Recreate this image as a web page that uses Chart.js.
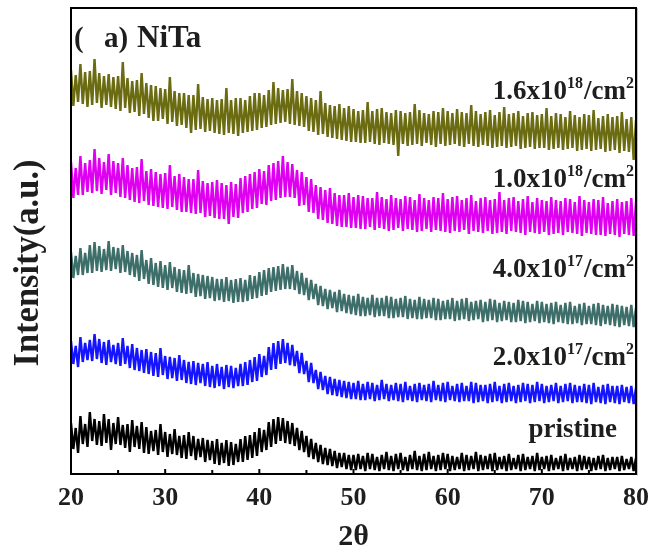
<!DOCTYPE html>
<html><head><meta charset="utf-8">
<script src="https://cdn.jsdelivr.net/npm/chart.js@4/dist/chart.umd.min.js"></script>
<style>html,body{margin:0;padding:0;background:#fff;}#wrap{width:658px;height:555px;}</style>
</head><body><div id="wrap"><canvas id="c" width="658" height="555"></canvas></div>
<script>
// ---- data (2θ grid in degrees, intensities in arbitrary units with stacking offset) ----
const twoTheta = Array.from({length: 241}, (_, i) => 20 + i * 0.25);
const xTickValues = [20, 30, 40, 50, 60, 70, 80];
const seriesNames = ['pristine', '2.0x10^17/cm^2', '4.0x10^17/cm^2', '1.0x10^18/cm^2', '1.6x10^18/cm^2'];
const doseMantissa = ['1.6x10', '1.0x10', '4.0x10', '2.0x10'];
const doseExponent = ['18', '18', '17', '17'];
const doseUnit = '/cm';
const doseUnitExp = '2';
const pristineLabel = 'pristine';
const panelParts = ['(', 'a)', 'NiTa'];
const xTitle = '2θ';
const yTitle = 'Intensity(a.u.)';

const pristine = [
51,25,46,21, 58,30,50,27, 62,33,55,29, 53,28,60,31, 55,24,51,30, 57,29,49,26, 50,22,54,27, 48,25,52,21, 47,20,43,23, 44,19,50,22,
42,17,40,20, 45,19,38,16, 39,15,42,18, 38,14,35,17, 36,12,34,14, 33,10,35,9, 31,11,34,8, 32,9,30,12, 35,12,38,14, 39,16,42,18,
46,22,44,24, 52,27,55,30, 57,33,56,31, 53,30,51,28, 46,24,43,22, 38,17,35,15, 31,12,29,10, 26,9,25,8, 23,6,21,7, 21,5,19,4,
19,4,20,5, 18,3,21,5, 20,4,17,3, 19,5,22,4, 18,3,20,5, 21,4,17,3, 19,5,23,4, 18,3,20,4, 22,5,18,3, 19,4,21,5,
20,3,18,4, 17,5,21,3, 19,4,18,5, 22,3,19,4, 18,5,20,3, 21,4,17,5, 18,3,20,4, 16,5,19,3, 20,4,17,5, 18,3,21,4,
17,5,18,3, 19,4,16,5, 18,3,20,4, 16,5,17,3, 19,4,18,5, 17,3,16,4, 18,5,19,3, 16,4,17,5, 17,3,18,4, 15,5,17,3,
16];

const dose2e17 = [
133,110,128,107, 137,112,131,114, 134,113,140,115, 135,111,132,109, 134,112,129,110, 131,108,136,110, 128,106,130,104, 126,103,124,101, 125,100,122,98, 121,97,126,99,
118,95,117,96, 116,93,119,94, 114,91,112,90, 113,89,111,91, 110,88,112,87, 108,86,110,88, 107,85,109,87, 108,86,106,88, 110,88,112,89, 114,92,117,93,
120,97,118,99, 127,104,131,105, 133,110,135,111, 131,109,129,108, 123,101,121,100, 113,92,111,91, 104,85,102,84, 98,80,97,79, 95,78,94,77, 93,76,92,75,
91,75,93,74, 90,74,92,75, 91,73,89,74, 94,75,90,73, 89,74,91,73, 90,72,92,74, 88,73,90,72, 91,74,89,73, 90,72,93,74, 89,73,91,72,
92,74,88,73, 90,72,91,73, 88,73,92,71, 91,72,89,73, 89,71,90,72, 92,73,88,71, 90,72,91,73, 88,71,89,72, 91,73,90,71, 89,72,92,73,
90,71,88,72, 89,73,91,71, 88,72,90,73, 91,71,89,72, 88,72,90,71, 89,70,91,72, 87,71,89,70, 90,72,88,71, 88,70,89,72, 87,71,88,70,
86];

const dose4e17 = [
222,196,218,199, 226,199,221,201, 229,201,232,203, 228,202,225,204, 233,203,227,205, 226,201,229,202, 223,199,221,197, 219,193,224,195, 214,190,216,189, 211,187,213,186,
209,184,212,186, 207,182,205,181, 204,180,209,181, 201,177,200,178, 199,175,198,176, 197,173,195,174, 195,172,197,173, 194,171,195,172, 196,172,194,173, 199,175,198,176,
202,178,204,179, 206,182,207,183, 208,184,210,185, 207,185,209,184, 203,180,201,179, 196,174,194,175, 190,169,188,168, 185,165,184,166, 182,162,184,163, 180,161,179,160,
178,159,180,158, 177,158,176,159, 179,157,176,158, 176,158,178,156, 177,156,175,157, 176,157,178,155, 175,156,174,155, 177,155,175,156, 174,156,176,154, 175,154,173,155,
174,155,176,153, 173,154,175,155, 176,153,172,154, 173,155,174,152, 172,153,175,154, 174,152,171,153, 173,154,172,152, 171,152,174,153, 173,151,172,152, 170,153,173,151,
172,152,170,151, 171,150,172,152, 169,151,171,150, 172,150,168,151, 170,149,171,150, 168,150,170,149, 171,148,169,150, 168,149,170,148, 169,147,168,149, 167,148,169,147,
166];

const dose1e18 = [
312,276,306,279, 318,279,311,282, 314,281,325,283, 316,280,312,284, 320,279,313,281, 311,277,316,276, 309,274,306,272, 307,271,315,273, 303,269,305,268, 302,267,300,266,
301,265,309,267, 298,264,300,262, 297,262,295,261, 295,260,304,261, 293,257,291,258, 292,256,294,255, 291,255,289,250, 292,257,290,256, 296,261,298,262, 300,265,302,266,
305,270,303,269, 309,273,311,274, 313,276,318,277, 312,277,310,276, 304,268,302,269, 297,262,295,261, 289,255,287,254, 284,251,286,250, 281,248,279,247, 279,247,281,246,
277,246,279,245, 278,245,276,247, 276,244,282,246, 277,245,275,243, 279,244,276,246, 275,243,278,245, 277,244,274,242, 280,243,276,245, 274,242,277,244, 276,243,281,242,
275,241,277,243, 278,242,274,244, 276,240,279,243, 273,242,276,241, 277,243,274,240, 275,241,282,242, 274,240,276,243, 277,242,273,241, 275,239,278,242, 272,241,276,240,
274,242,273,239, 277,240,274,241, 273,239,276,242, 275,241,272,240, 278,238,274,241, 272,240,275,239, 274,239,277,238, 271,240,273,239, 275,237,272,240, 273,239,276,238,
272];

const dose16e17 = [
404,368,399,372, 410,370,402,367, 403,369,415,371, 401,366,398,369, 400,367,397,365, 398,363,412,366, 396,361,393,362, 394,358,401,360, 391,356,389,353, 388,353,386,355,
385,350,397,352, 383,348,381,349, 381,346,379,341, 379,344,390,345, 377,342,375,343, 376,341,374,340, 375,339,386,341, 374,340,376,338, 376,341,374,342, 378,343,381,344,
381,346,379,347, 384,349,392,350, 386,351,384,352, 385,350,395,349, 383,348,381,347, 378,343,376,342, 374,339,383,340, 371,337,369,336, 368,335,370,334, 366,333,368,332,
365,332,363,331, 364,331,372,332, 363,330,365,329, 366,331,362,330, 361,329,364,318, 363,330,361,328, 362,329,370,330, 364,328,361,331, 360,329,363,327, 362,330,366,328,
363,329,361,330, 365,328,362,327, 361,330,369,328, 363,327,360,329, 362,328,364,326, 359,327,362,328, 367,326,360,327, 361,328,363,325, 358,326,361,327, 362,325,359,326,
360,326,366,324, 358,325,361,326, 360,324,357,325, 363,326,359,323, 357,324,360,325, 359,323,364,324, 356,325,358,322, 360,323,357,324, 358,321,362,323, 355,322,357,314,
354];

// ---- styles & layout ----
const SERIF = '"Liberation Serif", "Times New Roman", serif';
const TEXT = '#1e1e1e';
const seriesColors = ['#000000', '#1414ff', '#3e6e69', '#df00f2', '#6b6b12'];
const seriesData = [pristine, dose2e17, dose4e17, dose1e18, dose16e17];
const doseLayout = {right: 634, baselines: [99, 187, 277, 365], size: 27, supSize: 16, raise: 11};
const pristineLayout = {right: 617, baseline: 437};

function drawDose(ctx, mant, exp, right, base) {
  const main = `bold ${doseLayout.size}px ${SERIF}`;
  const sup = `bold ${doseLayout.supSize}px ${SERIF}`;
  ctx.font = main; const w1 = ctx.measureText(mant).width; const w3 = ctx.measureText(doseUnit).width;
  ctx.font = sup; const w2 = ctx.measureText(exp).width + 1; const w4 = ctx.measureText(doseUnitExp).width;
  let x = right - (w1 + w2 + w3 + w4);
  ctx.textAlign = 'left'; ctx.textBaseline = 'alphabetic';
  ctx.font = main; ctx.fillText(mant, x, base); x += w1;
  ctx.font = sup; ctx.fillText(exp, x, base - doseLayout.raise); x += w2;
  ctx.font = main; ctx.fillText(doseUnit, x, base); x += w3;
  ctx.font = sup; ctx.fillText(doseUnitExp, x, base - doseLayout.raise);
}

const decor = {
  id: 'decor',
  afterDraw(chart) {
    const {ctx, chartArea: a, scales: {x}} = chart;
    ctx.save();
    // frame
    ctx.strokeStyle = '#000'; ctx.lineWidth = 2;
    ctx.strokeRect(a.left, a.top, a.right - a.left, a.bottom - a.top);
    ctx.strokeStyle = 'rgba(0,0,0,0.25)'; ctx.lineWidth = 1;
    ctx.beginPath(); ctx.moveTo(a.right + 1.5, a.top); ctx.lineTo(a.right + 1.5, a.bottom + 1.5); ctx.stroke();
    // inward ticks
    ctx.strokeStyle = '#000'; ctx.lineWidth = 2;
    for (let v = 20; v <= 80; v += 5) {
      const px = x.getPixelForValue(v);
      const len = (v % 10 === 0) ? 5 : 4;
      ctx.beginPath(); ctx.moveTo(px, a.bottom); ctx.lineTo(px, a.bottom - len); ctx.stroke();
    }
    ctx.fillStyle = TEXT;
    // panel label
    ctx.textBaseline = 'alphabetic'; ctx.textAlign = 'left';
    ctx.font = `bold 29px ${SERIF}`;
    ctx.fillText(panelParts[0], 74, 47);
    ctx.fillText(panelParts[1], 104, 47);
    ctx.font = `bold 31px ${SERIF}`;
    ctx.fillText(panelParts[2], 137, 47);
    // dose labels
    doseMantissa.forEach((m, i) => drawDose(ctx, m, doseExponent[i], doseLayout.right, doseLayout.baselines[i]));
    ctx.font = `bold ${doseLayout.size}px ${SERIF}`;
    ctx.textAlign = 'right';
    ctx.fillText(pristineLabel, pristineLayout.right, pristineLayout.baseline);
    // y title
    ctx.translate(29, 263); ctx.rotate(-Math.PI / 2);
    ctx.font = `bold 35px ${SERIF}`;
    ctx.textAlign = 'center'; ctx.textBaseline = 'middle';
    const w = ctx.measureText(yTitle).width;
    ctx.scale(207 / w, 1);
    ctx.fillText(yTitle, 0, 0);
    ctx.restore();
  }
};

new Chart(document.getElementById('c'), {
  type: 'line',
  data: {
    datasets: seriesData.map((arr, i) => ({
      label: seriesNames[i],
      data: twoTheta.map((t, k) => ({x: t, y: arr[k]})),
      borderColor: seriesColors[i],
      borderWidth: 2.4,
      borderJoinStyle: 'bevel',
      pointRadius: 0,
      tension: 0,
      fill: false
    }))
  },
  options: {
    responsive: false,
    devicePixelRatio: 1,
    animation: false,
    layout: {padding: {left: 71, right: 15, top: 8, bottom: 0}},
    plugins: {legend: {display: false}, tooltip: {enabled: false}},
    scales: {
      x: {
        type: 'linear', min: 20, max: 80,
        afterBuildTicks: (s) => { s.ticks = xTickValues.map(v => ({value: v})); },
        afterFit: (s) => { s.height = 81; },
        ticks: {font: {family: SERIF, size: 26, weight: 'bold'}, color: TEXT, padding: 9, maxRotation: 0, autoSkip: false},
        grid: {display: false, drawTicks: false},
        border: {display: false},
        title: {display: true, text: xTitle, color: TEXT, font: {family: SERIF, size: 30, weight: 'bold'}, padding: {top: 0, bottom: 0}}
      },
      y: {type: 'linear', min: 0, max: 466, display: false}
    }
  },
  plugins: [decor]
});
</script>
</body></html>
